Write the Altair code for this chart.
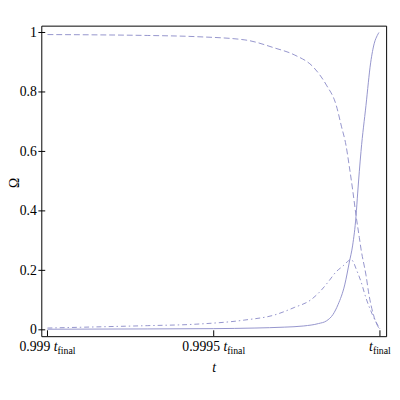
import altair as alt
import pandas as pd

# ---- data (t in units of t_final) ----
dash_t = [0.999000, 0.999152, 0.999300, 0.999447, 0.999594, 0.999683, 0.999742,
          0.999801, 0.999839, 0.999868, 0.999884, 0.999898, 0.999908, 0.999918,
          0.999928, 0.999938, 0.999943, 0.999958, 0.999967, 0.999983, 1.0]
dash_v = [0.993, 0.992, 0.990, 0.986, 0.975, 0.948, 0.925,
          0.882, 0.823, 0.757, 0.685, 0.620, 0.548, 0.470,
          0.385, 0.310, 0.272, 0.184, 0.118, 0.041, 0.0]

solid_t = [0.999000, 0.999300, 0.999500, 0.999624, 0.999712, 0.999771, 0.999815,
           0.999839, 0.999859, 0.999874, 0.999894, 0.999908, 0.999918, 0.999928,
           0.999933, 0.999943, 0.999958, 0.999972, 0.999983, 0.999992, 0.999997]
solid_v = [0.002, 0.003, 0.004, 0.006, 0.009, 0.013, 0.021,
           0.030, 0.052, 0.085, 0.151, 0.228, 0.285, 0.382,
           0.460, 0.600, 0.755, 0.898, 0.964, 0.990, 1.0]

dd_t = [0.999000, 0.999152, 0.999300, 0.999447, 0.999594, 0.999683, 0.999742,
        0.999791, 0.999820, 0.999845, 0.999868, 0.999889, 0.999903, 0.999913,
        0.999920, 0.999928, 0.999943, 0.999958, 0.999977, 1.0]
dd_v = [0.006, 0.010, 0.014, 0.019, 0.033, 0.050, 0.075,
        0.100, 0.129, 0.162, 0.195, 0.215, 0.230, 0.237,
        0.228, 0.206, 0.162, 0.107, 0.052, 0.003]

xtick_vals = [0.999, 0.9995, 1.0]
xtick_nums = ["0.999", "0.9995", ""]
ytick_vals = [0, 0.2, 0.4, 0.6, 0.8, 1]

# ---- styling ----
FONT = "Liberation Serif"
LINE_COLOR = "#9393cc"
X_DOMAIN = [0.99898144, 1.00001856]
Y_DOMAIN = [-0.0214, 1.023]
W, H = 352, 317
PX_PER_UNIT = W / (X_DOMAIN[1] - X_DOMAIN[0])

xs = alt.Scale(domain=X_DOMAIN, nice=False, zero=False)
ys = alt.Scale(domain=Y_DOMAIN, nice=False, zero=False)


def num_width(s):
    return sum(3.5 if c == "." else 7.0 for c in s)


lab_rows = []
for v, n in zip(xtick_vals, xtick_nums):
    if n:
        anchor = num_width(n) / 2 + 1.75 - 11.1
    else:
        anchor = -11.1
    lab_rows.append({
        "num": n,
        "x_num": v + (anchor - 3.5) / PX_PER_UNIT,
        "x_t": v + anchor / PX_PER_UNIT,
        "x_f": v + (anchor + 3.9) / PX_PER_UNIT,
    })
labels = pd.DataFrame(lab_rows)

df_dash = pd.DataFrame({"t": dash_t, "v": dash_v})
df_solid = pd.DataFrame({"t": solid_t, "v": solid_v})
df_dd = pd.DataFrame({"t": dd_t, "v": dd_v})

xenc = alt.X("t:Q", scale=xs,
             axis=alt.Axis(labels=False, ticks=False, domain=False, grid=False,
                           title="t", titleFontSize=14,
                           titleFontStyle="italic", titleFontWeight="normal",
                           titleColor="black", titleBaseline="alphabetic",
                           titleY=36, titleX=W / 2))
yenc = alt.Y("v:Q", scale=ys,
             axis=alt.Axis(values=ytick_vals, format="~g", ticks=False,
                           domain=False, grid=False,
                           labelFontSize=14, labelColor="black", labelPadding=5,
                           title="Ω", titleFontSize=14,
                           titleFontWeight="normal", titleColor="black",
                           titleAngle=270, titleBaseline="middle",
                           titleAlign="center", titleX=-27, titleY=160))

dashed = alt.Chart(df_dash).mark_line(
    color=LINE_COLOR, strokeWidth=1, strokeDash=[6, 3], interpolate="monotone"
).encode(x=xenc, y=yenc)

solid = alt.Chart(df_solid).mark_line(
    color=LINE_COLOR, strokeWidth=1, interpolate="monotone"
).encode(x=alt.X("t:Q", scale=xs), y=alt.Y("v:Q", scale=ys))

dotdash = alt.Chart(df_dd).mark_line(
    color=LINE_COLOR, strokeWidth=1, strokeDash=[5, 3, 1.5, 3],
    interpolate="monotone"
).encode(x=alt.X("t:Q", scale=xs), y=alt.Y("v:Q", scale=ys))

# inner ticks
yt = alt.Chart(pd.DataFrame({"y": ytick_vals})).mark_rule(
    color="black", strokeWidth=1
).encode(y=alt.Y("y:Q", scale=ys), x=alt.value(-3), x2=alt.value(4))

xt = alt.Chart(pd.DataFrame({"x": xtick_vals})).mark_rule(
    color="black", strokeWidth=1
).encode(x=alt.X("x:Q", scale=xs), y=alt.value(H - 6), y2=alt.value(H))

# x tick labels with subscript
base_lab = alt.Chart(labels)
num_txt = base_lab.transform_filter("datum.num != ''").mark_text(
    fontSize=14, align="right", baseline="alphabetic", color="black"
).encode(x=alt.X("x_num:Q", scale=xs), y=alt.value(H + 15), text="num:N")
t_txt = base_lab.mark_text(
    fontSize=14, fontStyle="italic", align="left",
    baseline="alphabetic", color="black"
).encode(x=alt.X("x_t:Q", scale=xs), y=alt.value(H + 15), text=alt.value("t"))
f_txt = base_lab.mark_text(
    fontSize=10, align="left", baseline="alphabetic", color="black"
).encode(x=alt.X("x_f:Q", scale=xs), y=alt.value(H + 18), text=alt.value("final"))

chart = alt.layer(dashed, solid, dotdash, yt, xt, num_txt, t_txt, f_txt).properties(
    width=W, height=H,
    autosize=alt.AutoSizeParams(type="none"),
    padding={"left": 34, "top": 14, "right": 6, "bottom": 55},
    background="white",
).configure(font=FONT).configure_view(stroke="black", strokeWidth=1)

chart.save("out.html", embed_options={"renderer": "svg", "actions": False})
